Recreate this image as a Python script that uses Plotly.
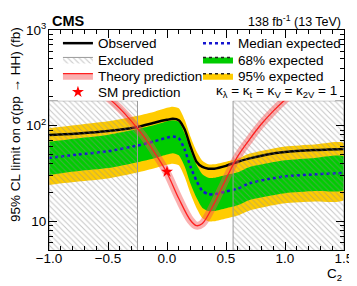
import plotly.graph_objects as go

# ---------------- data ----------------
c2 = [-1.0, -0.75, -0.5, -0.25, -0.1, 0.0, 0.05, 0.1, 0.15, 0.2, 0.25, 0.3,
      0.35, 0.4, 0.5, 0.6, 0.7, 0.85, 1.0, 1.25, 1.5]
observed = [80, 83, 88, 97, 108, 115, 118, 114, 91, 60, 42, 37,
            35.5, 35.5, 38, 42, 45.5, 50, 53, 55.5, 57]
median = [46, 50, 54, 62, 69, 75, 77, 74, 56, 37, 26.5, 20.8,
          19.2, 19.2, 20.5, 22, 25, 27.5, 29.5, 31, 32]
exp68_hi = [68, 74, 80, 92, 102, 111, 114, 110, 83, 55, 39, 31,
            28.5, 28.5, 30.5, 32.5, 37, 40.5, 43.5, 46, 47.5]
exp68_lo = [30.5, 33.5, 36, 41.5, 46, 50, 51.5, 49, 37.5, 24.5, 17.6, 13.8,
            12.8, 12.8, 13.7, 14.7, 16.7, 18.3, 19.7, 20.7, 21.3]
exp95_hi = [94, 102, 111, 127, 141, 154, 158, 152, 115, 76, 54, 43,
            39.5, 39.5, 42, 45, 51, 56, 60.5, 63.5, 65.5]
exp95_lo = [24, 26, 28, 32.3, 36, 39, 40, 38.5, 29, 19.3, 13.8, 10.8,
            10, 10, 10.7, 11.5, 13, 14.3, 15.4, 16.1, 16.7]

theory_c2 = [-0.6, -0.5, -0.4, -0.3, -0.2, -0.1, 0.0, 0.1, 0.2, 0.25, 0.3,
             0.4, 0.5, 0.6, 0.7, 0.8, 0.9, 1.0, 1.1]
theory_xs = [249, 197, 151, 111, 78, 51, 32, 17.3, 10.2, 9.0, 9.5,
             15.4, 27.7, 48, 72, 104, 142, 187, 238]

sm_c2 = [0.0]
sm_xs = [33.0]

excluded_lo = [-1.0, 0.56]
excluded_hi = [-0.25, 1.5]
excluded_top = 182

# ---------------- styling ----------------
FONT = "Liberation Sans, Arial, Helvetica, sans-serif"
FS = 13.5
GREEN = "#00cc00"
YELLOW = "#ffcc00"
BLUE = "#1515d0"
HATCH = dict(shape="\\", fgcolor="#8c8c8c", size=4, solidity=0.25, fillmode="overlay")

fig = go.Figure()

# 95% band
fig.add_trace(go.Scatter(
    x=c2 + c2[::-1], y=exp95_hi + exp95_lo[::-1], fill="toself",
    fillcolor=YELLOW, line=dict(width=0, shape="spline", smoothing=0.6),
    mode="lines", showlegend=False, hoverinfo="skip"))
# 68% band
fig.add_trace(go.Scatter(
    x=c2 + c2[::-1], y=exp68_hi + exp68_lo[::-1], fill="toself",
    fillcolor=GREEN, line=dict(width=0, shape="spline", smoothing=0.6),
    mode="lines", showlegend=False, hoverinfo="skip"))
# median
fig.add_trace(go.Scatter(
    x=c2, y=median, mode="lines",
    line=dict(color=BLUE, width=2.5, dash="dot", shape="spline", smoothing=0.6),
    showlegend=False, hoverinfo="skip"))
# observed
fig.add_trace(go.Scatter(
    x=c2, y=observed, mode="lines",
    line=dict(color="black", width=2.5, shape="spline", smoothing=0.6),
    showlegend=False, hoverinfo="skip"))

# excluded regions (hatched)
for lo, hi in zip(excluded_lo, excluded_hi):
    fig.add_trace(go.Scatter(
        x=[lo, lo, hi, hi, lo], y=[1, excluded_top, excluded_top, 1, 1],
        fill="toself", fillcolor="rgba(0,0,0,0)", mode="lines",
        line=dict(color="#9a9a9a", width=1), fillpattern=HATCH,
        showlegend=False, hoverinfo="skip"))

# theory band + line
fig.add_trace(go.Scatter(
    x=theory_c2, y=theory_xs, mode="lines",
    line=dict(color="rgba(245,80,80,0.45)", width=8, shape="spline"),
    showlegend=False, hoverinfo="skip"))
fig.add_trace(go.Scatter(
    x=theory_c2, y=theory_xs, mode="lines",
    line=dict(color="#ff2020", width=1.3, shape="spline"),
    showlegend=False, hoverinfo="skip"))
# SM point
fig.add_trace(go.Scatter(
    x=sm_c2, y=sm_xs, mode="markers",
    marker=dict(symbol="star", color="#ff0000", size=9, line=dict(width=0)),
    showlegend=False, hoverinfo="skip"))

# ---------------- legend entries (one legend per entry) ----------------
# window pixel -> paper coordinates (plot area spans x 49..346, y 20..250 in the window)
def px2py(p):
    return (250 - p) / 230.0

def px2px(p):
    return (p - 49) / 297.0

left_x = px2px(58)
right_x = px2px(199)
entries = [
    ("Observed", dict(mode="lines", line=dict(color="black", width=2.5)), left_x, 34),
    ("Excluded", dict(mode="lines", fill="toself", fillcolor="rgba(0,0,0,0)",
                      line=dict(color="#9a9a9a", width=1), fillpattern=HATCH), left_x, 51),
    ("Theory prediction", dict(mode="lines", fill="toself",
                               fillcolor="rgba(245,80,80,0.45)",
                               line=dict(color="#ff2020", width=1.3)), left_x, 68),
    ("SM prediction", dict(mode="markers",
                           marker=dict(symbol="star", color="#ff0000", size=9)), left_x, 85),
    ("Median expected", dict(mode="lines", line=dict(color=BLUE, width=2.5, dash="dot")), right_x, 34),
    ("68% expected", dict(mode="lines", fill="toself", fillcolor=GREEN,
                          line=dict(color="#222222", width=1.5, dash="dot")), right_x, 51),
    ("95% expected", dict(mode="lines", fill="toself", fillcolor=YELLOW,
                          line=dict(color="#222222", width=1.5, dash="dot")), right_x, 68),
]
legend_layouts = {}
for i, (name, kw, lx, ly) in enumerate(entries):
    lname = "legend" if i == 0 else f"legend{i+1}"
    fig.add_trace(go.Scatter(x=[None], y=[None], name=name, legend=lname,
                             showlegend=True, hoverinfo="skip", **kw))
    legend_layouts[lname] = dict(
        x=lx, y=px2py(ly), xanchor="left", yanchor="middle",
        bgcolor="rgba(0,0,0,0)", borderwidth=0,
        font=dict(family=FONT, size=FS, color="black"),
        itemclick=False, itemdoubleclick=False)

fig.update_layout(**legend_layouts)

# white legend area covering top of plot
fig.add_shape(type="rect", xref="paper", yref="paper",
              x0=0.03, x1=0.97, y0=px2py(94), y1=0.955,
              fillcolor="white", line=dict(width=0), layer="above")

# ---------------- axes ----------------
x_major = [-1.0, -0.5, 0.0, 0.5, 1.0, 1.5]
x_minor = [round(-1.0 + 0.1 * i, 2) for i in range(26)]
y_major = [10, 100, 1000]
y_major_text = ["10", "10<sup>2</sup>", "10<sup>3</sup>"]
y_minor = [6, 7, 8, 9, 20, 30, 40, 50, 60, 70, 80, 90,
           200, 300, 400, 500, 600, 700, 800, 900]

fig.update_xaxes(
    range=[-1.0, 1.5], showgrid=False, zeroline=False,
    showline=True, linecolor="black", linewidth=1, mirror="allticks",
    ticks="inside", ticklen=8, tickwidth=1, tickcolor="black",
    tickvals=x_major, ticktext=[("−" if v < 0 else "") + f"{abs(v):.1f}" for v in x_major],
    tickfont=dict(family=FONT, size=FS, color="black"), ticklabelstandoff=-4,
    minor=dict(tickvals=x_minor, ticks="inside", ticklen=4, tickcolor="black", showgrid=False),
)
fig.update_yaxes(
    type="log", range=[0.7, 3.0], showgrid=False, zeroline=False,
    showline=True, linecolor="black", linewidth=1, mirror="allticks",
    ticks="inside", ticklen=8, tickwidth=1, tickcolor="black",
    tickvals=y_major, ticktext=y_major_text,
    tickfont=dict(family=FONT, size=FS, color="black"), ticklabelstandoff=-1,
    minor=dict(tickvals=y_minor, ticks="inside", ticklen=4, tickcolor="black", showgrid=False),
)

fig.add_annotation(text="<b>CMS</b>", xref="paper", yref="paper",
                   x=px2px(50), y=px2py(11), xanchor="left", yanchor="middle",
                   showarrow=False, font=dict(family=FONT, size=14.5, color="black"))
fig.add_annotation(text="138 fb<sup>-1</sup> (13 TeV)", xref="paper", yref="paper",
                   x=px2px(345), y=px2py(11), xanchor="right", yanchor="middle",
                   showarrow=False, font=dict(family=FONT, size=12.5, color="black"))
fig.add_annotation(text="κ<sub>λ</sub> = κ<sub>t</sub> = κ<sub>V</sub> = κ<sub>2V</sub> = 1",
                   xref="paper", yref="paper",
                   x=px2px(341), y=px2py(84), xanchor="right", yanchor="middle",
                   showarrow=False, font=dict(family=FONT, size=FS, color="black"))
fig.add_annotation(text="C<sub>2</sub>", xref="paper", yref="paper",
                   x=px2px(346), y=px2py(276), xanchor="right", yanchor="middle",
                   showarrow=False, font=dict(family=FONT, size=FS, color="black"))
fig.add_annotation(text="95% CL limit on σ(pp → HH) (fb)", xref="paper", yref="paper",
                   x=px2px(15), y=px2py(119), xanchor="center", yanchor="middle",
                   textangle=-90, showarrow=False,
                   font=dict(family=FONT, size=FS, color="black"))

# the page adds an 8 px body margin, so the figure is offset by (8, 8) in the window;
# margins are chosen so the plot area sits at window x 49..346, y 20..250
fig.update_layout(
    width=357, height=286,
    margin=dict(l=41, r=19, t=12, b=44),
    paper_bgcolor="white", plot_bgcolor="white",
    font=dict(family=FONT, size=FS, color="black"),
)

fig.write_html("out.html")
